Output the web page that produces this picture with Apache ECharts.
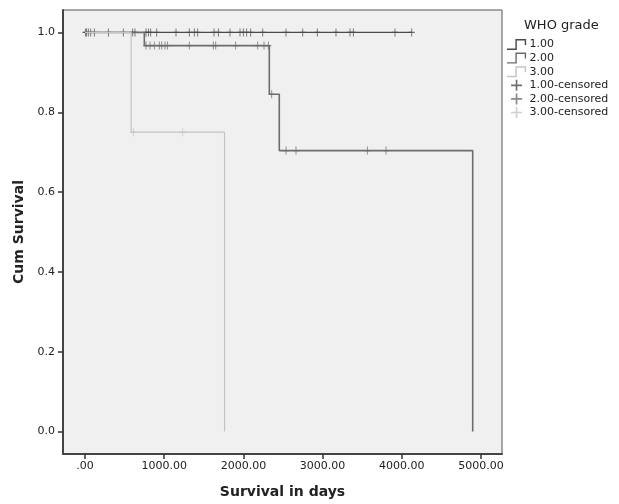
<!DOCTYPE html>
<meta charset="utf-8">
<title>Survival</title>
<style>
body { margin: 0; background: #fff; }
</style>
<body>
<script src="https://cdn.jsdelivr.net/npm/echarts@6/dist/echarts.min.js"></script>
<div id="main" style="width: 619px;height:504px;"></div>
<script type="text/javascript">
// step curves: [time, survival after event]
var grade1 = [[0, 1], [4125, 1]];
var grade2 = [[0, 1], [749, 0.967], [2327, 0.845], [2453, 0.704], [4895, 0]];
var grade3 = [[0, 1], [582, 0.75], [1762, 0]];

// censored observations
var cens1 = [[5, 1], [20, 1], [42, 1], [72, 1], [118, 1], [295, 1], [484, 1], [602, 1], [631, 1],
  [770, 1], [800, 1], [829, 1], [905, 1], [1149, 1], [1317, 1], [1380, 1], [1422, 1], [1629, 1],
  [1684, 1], [1831, 1], [1957, 1], [1999, 1], [2041, 1], [2092, 1], [2244, 1], [2538, 1], [2749, 1],
  [2933, 1], [3169, 1], [3346, 1], [3388, 1], [3914, 1], [4125, 1]];
var cens2 = [[770, 0.967], [821, 0.967], [875, 0.967], [938, 0.967], [968, 0.967], [1010, 0.967],
  [1040, 0.967], [1317, 0.967], [1620, 0.967], [1650, 0.967], [1902, 0.967], [2180, 0.967],
  [2260, 0.967], [2315, 0.967], [2357, 0.845], [2538, 0.704], [2664, 0.704], [3565, 0.704], [3801, 0.704]];
var cens3 = [[610, 0.75], [1233, 0.75]];

var xTicks = [0, 1000, 2000, 3000, 4000, 5000];
var yTicks = [0, 0.2, 0.4, 0.6, 0.8, 1.0];

var c1 = '#4a4a4a', c2 = '#6c6c6c', c3 = '#c4c4c4';
var plus = 'path://M3.4,0H4.6V3.4H8V4.6H4.6V8H3.4V4.6H0V3.4H3.4Z';
var step = 'path://M0,8H7V0H16V5H14.8V1.2H8.2V9.2H0Z';
var font = 'DejaVu Sans';

var myChart = echarts.init(document.getElementById('main'));
var option = {
  animation: false,
  textStyle: { fontFamily: font },
  title: {
    text: 'WHO grade', left: 519, top: 14,
    textStyle: { fontFamily: font, fontSize: 13, fontWeight: 'normal', color: '#222' }
  },
  legend: {
    orient: 'vertical', left: 502, top: 34, itemGap: 2.6,
    itemWidth: 20, itemHeight: 11,
    textStyle: { fontFamily: font, fontSize: 11, color: '#222', padding: [0, 0, 0, -2] },
    data: [
      { name: '1.00', icon: step },
      { name: '2.00', icon: step },
      { name: '3.00', icon: step },
      { name: '1.00-censored', icon: plus },
      { name: '2.00-censored', icon: plus },
      { name: '3.00-censored', icon: plus }
    ]
  },
  grid: {
    left: 63, right: 117, top: 10, bottom: 49,
    show: true, backgroundColor: '#f0f0f0', borderColor: '#555', borderWidth: 1
  },
  xAxis: {
    type: 'value', min: -278, max: 5265,
    name: 'Survival in days', nameLocation: 'middle', nameGap: 31,
    nameTextStyle: { fontFamily: font, fontSize: 14, fontWeight: 'bold', color: '#222' },
    axisLine: { onZero: false, lineStyle: { color: '#444', width: 2 } },
    axisTick: { customValues: xTicks, length: 5, lineStyle: { color: '#333', width: 1.5 } },
    axisLabel: {
      customValues: xTicks, fontSize: 11, color: '#222', margin: 7,
      formatter: function (v) { return v === 0 ? '.00' : v.toFixed(2); }
    },
    splitLine: { show: false }
  },
  yAxis: {
    type: 'value', min: -0.05625, max: 1.05625,
    name: 'Cum Survival', nameLocation: 'middle', nameGap: 34,
    nameTextStyle: { fontFamily: font, fontSize: 14, fontWeight: 'bold', color: '#222' },
    axisLine: { show: true, onZero: false, lineStyle: { color: '#444', width: 2 } },
    axisTick: { show: true, customValues: yTicks, length: 5, lineStyle: { color: '#333', width: 1.5 } },
    axisLabel: {
      customValues: yTicks, fontSize: 11, color: '#222', margin: 8,
      formatter: function (v) { return v.toFixed(1); }
    },
    splitLine: { show: false }
  },
  series: [
    { name: '1.00', type: 'line', step: 'end', data: grade1, showSymbol: false,
      lineStyle: { color: c1, width: 1.2 }, itemStyle: { color: c1 } },
    { name: '2.00', type: 'line', step: 'end', data: grade2, showSymbol: false,
      lineStyle: { color: c2, width: 1.6 }, itemStyle: { color: c2 } },
    { name: '3.00', type: 'line', step: 'end', data: grade3, showSymbol: false,
      lineStyle: { color: c3, width: 1.2 }, itemStyle: { color: c3 } },
    { name: '1.00-censored', type: 'scatter', data: cens1, symbol: plus, symbolSize: [6, 8],
      itemStyle: { color: c1 } },
    { name: '2.00-censored', type: 'scatter', data: cens2, symbol: plus, symbolSize: [6, 8],
      itemStyle: { color: c2 } },
    { name: '3.00-censored', type: 'scatter', data: cens3, symbol: plus, symbolSize: [6, 8],
      itemStyle: { color: c3 } }
  ]
};
myChart.setOption(option);
</script>
</body>
